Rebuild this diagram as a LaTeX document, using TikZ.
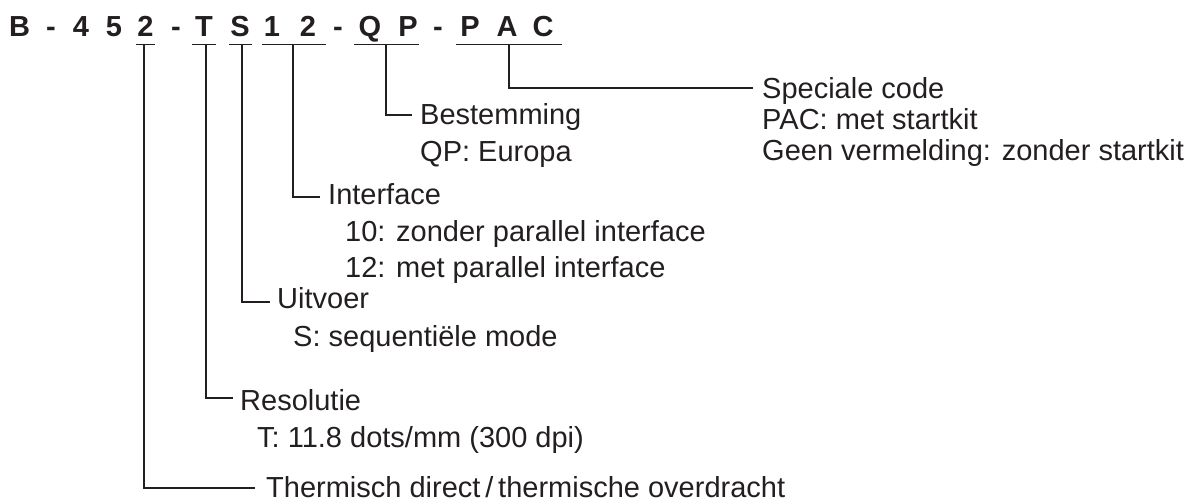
\documentclass[tikz,border=0pt]{standalone}
\usepackage{fontspec}
\setmainfont{Liberation Sans}
\definecolor{ink}{HTML}{231F20}
\begin{document}
\begin{tikzpicture}[x=1pt,y=-1pt,
  ttl/.style={inner sep=0pt,anchor=base,font=\fontsize{29}{32}\selectfont\bfseries,text=ink},
  lbl/.style={inner sep=0pt,anchor=base west,font=\fontsize{29}{33}\selectfont,text=ink},
  conn/.style={draw=ink,line width=1.1pt},
  uline/.style={draw=ink,line width=1.1pt}]
\useasboundingbox (0,0) rectangle (1188,502);
% title characters
\foreach \ch/\cx [count=\i] in {B/19.5,-/51,4/81,5/114,2/145.5,-/176,T/204,S/240,1/272,2/308,-/338,Q/370,P/408,-/438,P/470,A/507,C/543}
  \node[ttl] (c\i) at (\cx,37) {\ch};
% underlines
\draw[uline] (136,44.5) -- (155,44.5);
\draw[uline] (192,44.5) -- (216,44.5);
\draw[uline] (229,44.5) -- (252,44.5);
\draw[uline] (262,44.5) -- (326,44.5);
\draw[uline] (354,44.5) -- (419,44.5);
\draw[uline] (456,44.5) -- (562,44.5);
\coordinate (u2) at (144,44.5);
\coordinate (uT) at (206,44.5);
\coordinate (uS) at (242,44.5);
\coordinate (u12) at (293,44.5);
\coordinate (uQP) at (386,44.5);
\coordinate (uPAC) at (509,44.5);
% labels
\node[lbl] (spec) at (762,99) {Speciale code};
\node[lbl] (pac) at (762,130) {PAC: met startkit};
\node[lbl] (geen) at (762,160.5) {Geen vermelding: zonder startkit};
\node[lbl] (best) at (420,125) {Bestemming};
\node[lbl] (qp) at (420,162) {QP: Europa};
\node[lbl] (intf) at (328,205) {Interface};
\node[lbl] (i10) at (345,242) {10: zonder parallel interface};
\node[lbl] (i12) at (345,278) {12: met parallel interface};
\node[lbl] (uitv) at (277,309) {Uitvoer};
\node[lbl] (seq) at (293,347) {S: sequentiële mode};
\node[lbl] (res) at (240,410) {Resolutie};
\node[lbl] (dpi) at (257,447) {T: 11.8 dots/mm (300 dpi)};
\node[lbl] (therm) at (266,497) {Thermisch direct\,/\,thermische overdracht};
% connector ends
\coordinate (ePAC) at (753,88);
\coordinate (eQP) at (412,115);
\coordinate (e12) at (320,197);
\coordinate (eS) at (270,302);
\coordinate (eT) at (233,398);
\coordinate (e2) at (255,488);
% connectors
\draw[conn] (uPAC) |- (ePAC);
\draw[conn] (uQP) |- (eQP);
\draw[conn] (u12) |- (e12);
\draw[conn] (uS) |- (eS);
\draw[conn] (uT) |- (eT);
\draw[conn] (u2) |- (e2);
\end{tikzpicture}
\end{document}
